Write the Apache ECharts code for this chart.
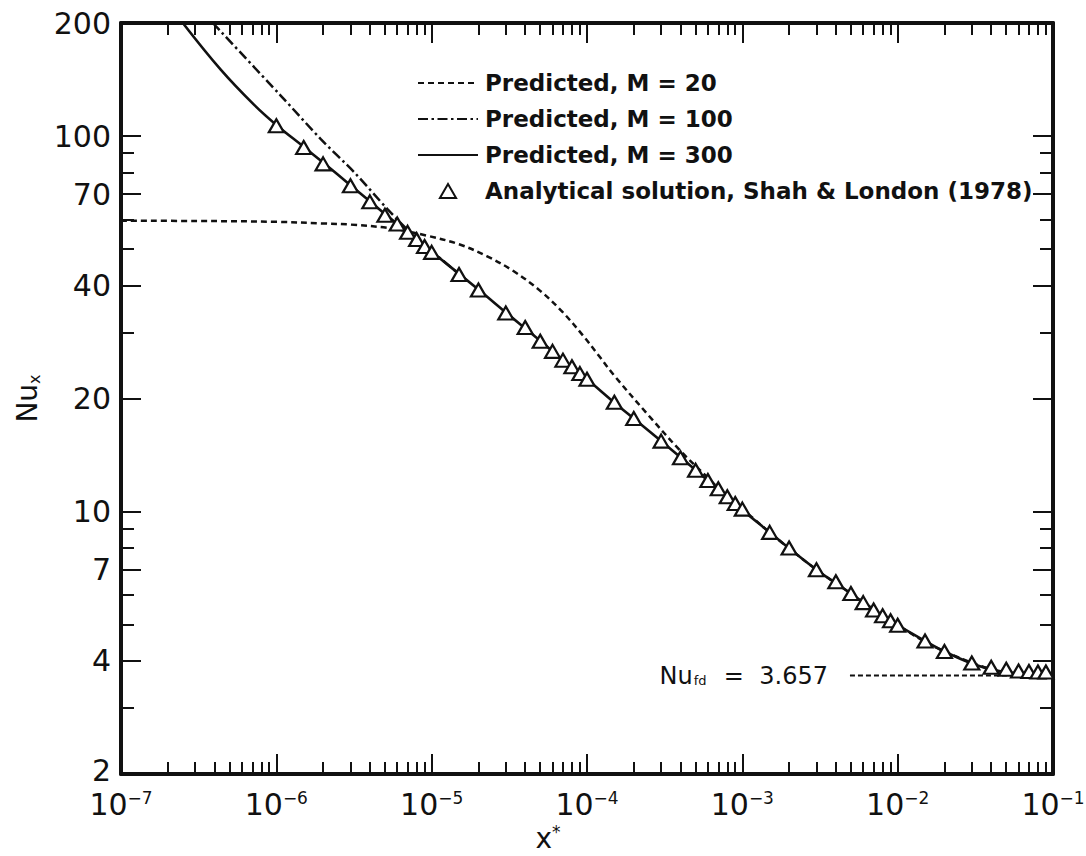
<!DOCTYPE html>
<html>
<head>
<meta charset="utf-8">
<script src="https://cdn.jsdelivr.net/npm/echarts@6/dist/echarts.min.js"></script>
<style>
  html, body { margin: 0; padding: 0; background: #ffffff; }
  #chart { width: 1086px; height: 856px; }
</style>
</head>
<body>
<div id="chart"></div>
<script>
// Local Nusselt number in the thermal entrance region of a tube, log-log.

// Axis ticks and labels
const xExponents = [-7, -6, -5, -4, -3, -2, -1];
const xMinorMultipliers = [2, 3, 4, 5, 6, 7, 8, 9];
const yLabelValues = [200, 100, 70, 40, 20, 10, 7, 4, 2];
const yMajorTicks = [100, 70, 40, 20, 10, 7, 4];
const yMinorTicks = [90, 80, 60, 50, 30, 9, 8, 6, 5, 3];

// Predicted, M = 20 (dashed)
const m20X = [1e-7, 3e-7, 1e-6, 2e-6, 3e-6, 5.4e-6, 9.3e-6, 1.5e-5, 2.26e-5, 3.36e-5, 5e-5, 7e-5, 9.5e-5, 1.2e-4, 1.5e-4, 2.5e-4, 4e-4, 6e-4, 8e-4, 1e-3, 1.5e-3, 2e-3, 3e-3, 5e-3, 1e-2, 2e-2, 5e-2, 1e-1];
const m20Y = [59.5, 59.4, 59.1, 58.5, 58.1, 56.8, 54.3, 51.5, 47.9, 43.7, 38.7, 33.9, 29.3, 25.9, 23.0, 18.0, 14.5, 12.3, 10.95, 10.15, 8.8, 7.98, 7.0, 6.05, 4.98, 4.24, 3.73, 3.67];

// Predicted, M = 100 (dash-dot)
const m100X = [3.9e-7, 1.07e-6, 1.94e-6, 3.18e-6, 5.21e-6, 7e-6, 1e-5, 1.5e-5];
const m100Y = [200, 128, 98, 80, 63.8, 56.3, 49.4, 42.9];

// Predicted, M = 300 (solid)
const m300X = [2.5e-7, 4.4e-7, 7.2e-7, 1e-6, 1.5e-6, 2e-6, 3e-6, 4e-6, 5e-6, 7e-6, 1e-5, 2e-5, 3e-5, 5e-5, 7e-5, 1e-4, 1.5e-4, 2e-4, 3e-4, 5e-4, 7e-4, 1e-3, 1.5e-3, 2e-3, 3e-3, 5e-3, 7e-3, 1e-2, 1.5e-2, 2e-2, 3e-2, 4e-2, 5e-2, 7e-2, 1e-1];
const m300Y = [200, 150, 121, 107, 93.6, 85.0, 74, 67, 62, 55.5, 49.2, 39, 33.9, 28.5, 25.3, 22.5, 19.5, 17.7, 15.4, 12.9, 11.45, 10.1, 8.8, 7.98, 7.0, 6.05, 5.47, 4.98, 4.52, 4.24, 3.94, 3.8, 3.73, 3.69, 3.67];

// Analytical solution, Shah & London (1978)
const shahX = [1e-6, 1.5e-6, 2e-6, 3e-6, 4e-6, 5e-6, 6e-6, 7e-6, 8e-6, 9e-6,
               1e-5, 1.5e-5, 2e-5, 3e-5, 4e-5, 5e-5, 6e-5, 7e-5, 8e-5, 9e-5,
               1e-4, 1.5e-4, 2e-4, 3e-4, 4e-4, 5e-4, 6e-4, 7e-4, 8e-4, 9e-4,
               1e-3, 1.5e-3, 2e-3, 3e-3, 4e-3, 5e-3, 6e-3, 7e-3, 8e-3, 9e-3,
               1e-2, 1.5e-2, 2e-2, 3e-2, 4e-2, 5e-2, 6e-2, 7e-2, 8e-2, 9e-2];
const shahY = [106.5, 93.2, 84.3, 73.7, 66.8, 61.5, 58.3, 55.4, 53.0, 50.8,
               49.0, 42.8, 38.9, 33.8, 30.9, 28.4, 26.7, 25.3, 24.3, 23.3,
               22.5, 19.55, 17.7, 15.4, 13.9, 12.88, 12.1, 11.5, 10.95, 10.5,
               10.15, 8.8, 8.0, 7.0, 6.5, 6.05, 5.72, 5.47, 5.28, 5.12,
               4.98, 4.52, 4.24, 3.95, 3.85, 3.8, 3.76, 3.75, 3.74, 3.74];

// Fully developed value
const nuFd = 3.657;
const nuFdLineX = [4.93e-3, 1e-1];

const zip = (xs, ys) => xs.map((x, i) => [x, ys[i]]);

const xMajor = xExponents.map(e => Math.pow(10, e));
const xMinor = [];
xExponents.slice(0, -1).forEach(e => {
  xMinorMultipliers.forEach(m => xMinor.push(+(m * Math.pow(10, e)).toPrecision(3)));
});

const FONT = 'DejaVu Sans';
const INK = '#111111';
const X_MIN = 1e-7, X_MAX = 1e-1, Y_MIN = 2, Y_MAX = 200;

function xAxisDef(position, ticks, len, withLine, withLabels) {
  return {
    type: 'log', logBase: 10, min: X_MIN, max: X_MAX, position: position,
    gridIndex: 0,
    axisLine: { show: withLine, onZero: false, lineStyle: { color: INK, width: 4 } },
    axisTick: { show: true, inside: true, length: len, customValues: ticks,
                lineStyle: { color: INK, width: 2 } },
    axisLabel: withLabels ? {
      show: true, customValues: xMajor, margin: 11,
      formatter: v => '{b|10}{s|\u2212' + Math.round(-Math.log10(v)) + '}',
      rich: {
        b: { fontFamily: FONT, fontSize: 30, color: INK, padding: [4, 0, 0, 0] },
        s: { fontFamily: FONT, fontSize: 17, color: INK, padding: [0, 0, 8, 0] }
      }
    } : { show: false },
    splitLine: { show: false },
    minorTick: { show: false }
  };
}

function yAxisDef(position, ticks, len, withLine, withLabels) {
  return {
    type: 'log', logBase: 10, min: Y_MIN, max: Y_MAX, position: position,
    gridIndex: 0,
    axisLine: { show: withLine, onZero: false, lineStyle: { color: INK, width: 4 } },
    axisTick: { show: true, inside: true, length: len, customValues: ticks,
                lineStyle: { color: INK, width: 2 } },
    axisLabel: withLabels ? {
      show: true, customValues: yLabelValues, margin: 10,
      fontFamily: FONT, fontSize: 30, color: INK,
      // the bottom "2" sits a little higher so it clears the decade label below it
      formatter: v => (v === Y_MIN ? '{lo|' + v + '}' : String(v)),
      rich: { lo: { fontFamily: FONT, fontSize: 30, color: INK, lineHeight: 22,
                    padding: [0, 0, 8, 0] } }
    } : { show: false },
    splitLine: { show: false },
    minorTick: { show: false }
  };
}

const lineLegendStyle = { color: 'rgba(0,0,0,0)', borderWidth: 0 };

const chart = echarts.init(document.getElementById('chart'), null, { renderer: 'svg' });

chart.setOption({
  animation: false,
  backgroundColor: '#ffffff',
  grid: { left: 121, top: 23, width: 932, height: 751, containLabel: false,
          outerBoundsMode: 'none' },
  xAxis: [
    Object.assign(xAxisDef('bottom', xMajor, 20, true, true), {
      name: '{v|x}{a|*}', nameLocation: 'middle', nameGap: 38,
      nameTextStyle: {
        rich: {
          v: { fontFamily: FONT, fontSize: 28, color: INK, lineHeight: 30 },
          a: { fontFamily: FONT, fontSize: 17, color: INK, lineHeight: 30,
               padding: [0, 0, 12, 0] }
        },
        padding: [0, 78, 0, 0]
      }
    }),
    xAxisDef('bottom', xMinor, 12, false, false),
    xAxisDef('top', xMajor, 20, true, false),
    xAxisDef('top', xMinor, 12, false, false)
  ],
  yAxis: [
    Object.assign(yAxisDef('left', yMajorTicks, 20, true, true), {
      name: '{n|Nu}{s|x}', nameLocation: 'middle', nameGap: 76, nameRotate: 90,
      nameTextStyle: {
        rich: {
          n: { fontFamily: FONT, fontSize: 28, color: INK },
          s: { fontFamily: FONT, fontSize: 16, color: INK, padding: [14, 0, 0, 0] }
        }
      }
    }),
    yAxisDef('left', yMinorTicks, 13, false, false),
    yAxisDef('right', yMajorTicks, 20, true, false),
    yAxisDef('right', yMinorTicks, 13, false, false)
  ],
  legend: {
    orient: 'vertical', left: 412, top: 65,
    itemWidth: 60, itemHeight: 14, itemGap: 10,
    data: [
      { name: 'Predicted, M = 20', itemStyle: lineLegendStyle },
      { name: 'Predicted, M = 100', itemStyle: lineLegendStyle },
      { name: 'Predicted, M = 300', itemStyle: lineLegendStyle },
      { name: 'Analytical solution, Shah & London (1978)',
        icon: 'path://M0,13 L7.5,0 L15,13 Z' }
    ],
    symbolKeepAspect: true,
    textStyle: { fontFamily: FONT, fontSize: 23, fontWeight: 'bold', color: INK,
                 lineHeight: 26, padding: [0, 0, 0, 2] },
    selectedMode: false
  },
  series: [
    {
      name: 'Predicted, M = 20', type: 'line', data: zip(m20X, m20Y),
      symbol: 'none', smooth: 0.35, clip: true,
      itemStyle: { color: INK },
      lineStyle: { color: INK, width: 2.5, type: [6, 4] }
    },
    {
      name: 'Predicted, M = 100', type: 'line', data: zip(m100X, m100Y),
      symbol: 'none', smooth: 0.3, clip: true,
      itemStyle: { color: INK },
      lineStyle: { color: INK, width: 2.5, type: [10, 3.5, 2.5, 3.5] }
    },
    {
      name: 'Predicted, M = 300', type: 'line', data: zip(m300X, m300Y),
      symbol: 'none', smooth: 0.4, clip: true,
      itemStyle: { color: INK },
      lineStyle: { color: INK, width: 2.6 }
    },
    {
      name: 'fd', type: 'line', clip: true,
      data: [
        {
          value: [nuFdLineX[0], nuFd], symbol: 'circle', symbolSize: 0.01,
          label: {
            show: true, position: 'left', distance: 22,
            formatter: '{n|Nu}{s|fd}{n|  =  ' + nuFd + '}',
            rich: {
              n: { fontFamily: FONT, fontSize: 24, color: INK },
              s: { fontFamily: FONT, fontSize: 13, color: INK, padding: [10, 2, 0, 1] }
            }
          }
        },
        { value: [nuFdLineX[1], nuFd], symbol: 'none' }
      ],
      itemStyle: { color: INK },
      lineStyle: { color: INK, width: 2, type: [5, 3] },
      tooltip: { show: false }
    },
    {
      name: 'Analytical solution, Shah & London (1978)', type: 'scatter',
      data: zip(shahX, shahY), symbol: 'triangle', symbolSize: [15, 13],
      itemStyle: { color: '#ffffff', borderColor: INK, borderWidth: 2.2, opacity: 1 },
      clip: false, z: 5
    }
  ]
});
</script>
</body>
</html>
